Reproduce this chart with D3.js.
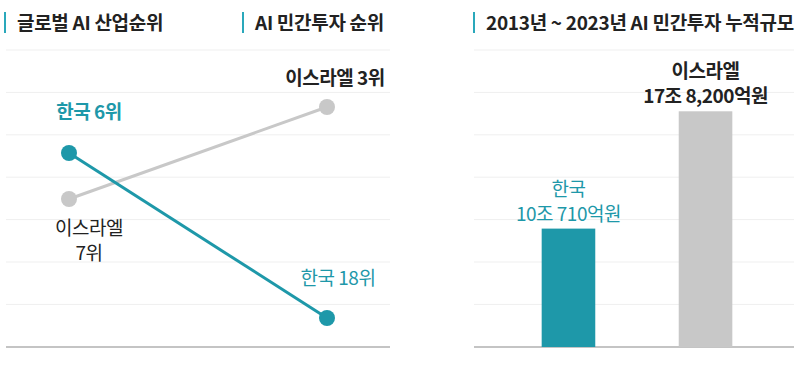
<!DOCTYPE html>
<html>
<head>
<meta charset="utf-8">
<script src="https://cdn.jsdelivr.net/npm/d3@7"></script>
<style>
  body { margin: 0; background: #fff; }
  svg text { font-family: "Noto Sans CJK KR", "Noto Sans", sans-serif; letter-spacing: -0.5px; }
</style>
</head>
<body>
<div id="chart"></div>
<script>
// slope chart data: rank in each column
var columns = ['글로벌 AI 산업순위', 'AI 민간투자 순위'];
var countries = ['한국', '이스라엘'];
var industryRank = [6, 7];
var investRank = [18, 3];
var colors = ['#1e98a9', '#c8c8c8'];

// bar chart data (조원)
var barTitle = '2013년 ~ 2023년 AI 민간투자 누적규모';
var barValues = [10.071, 17.82];
var barLabels = ['10조 710억원', '17조 8,200억원'];

var width = 800, height = 370;
var svg = d3.select('#chart').append('svg')
  .attr('width', width)
  .attr('height', height);

var gridY = d3.range(7).map(function(i) { return 50 + i * 42.4; });
var baseY = 347;

function drawFrame(x0, x1) {
  svg.selectAll(null).data(gridY).enter().append('line')
    .attr('x1', x0).attr('x2', x1)
    .attr('y1', function(d) { return d; }).attr('y2', function(d) { return d; })
    .attr('stroke', '#efefef').attr('stroke-width', 1);
  svg.append('line')
    .attr('x1', x0).attr('x2', x1).attr('y1', baseY).attr('y2', baseY)
    .attr('stroke', '#c4c4c4').attr('stroke-width', 2);
}

function drawTitle(x, txt) {
  svg.append('rect').attr('x', x).attr('y', 12).attr('width', 2).attr('height', 21).attr('fill', '#2aa8bb');
  svg.append('text').attr('x', x + 13).attr('y', 30)
    .attr('font-size', 19).attr('font-weight', 700).attr('fill', '#222')
    .style('letter-spacing', '-0.3px')
    .text(txt);
}

// ---- left: slope chart ----
drawFrame(6, 390);
drawTitle(4, columns[0]);
drawTitle(242, columns[1]);

var x = d3.scalePoint().domain([0, 1]).range([69, 327]);
var yLeft = d3.scaleLinear().domain([6, 7]).range([153, 199]);
var yRight = d3.scaleLinear().domain([3, 18]).range([107, 318]);

var series = countries.map(function(c, i) {
  return { name: c, color: colors[i], pts: [[0, yLeft(industryRank[i])], [1, yRight(investRank[i])]] };
});

// draw israel first, korea on top
series.slice().reverse().forEach(function(s) {
  svg.append('path')
    .attr('d', d3.line().x(function(d) { return x(d[0]); }).y(function(d) { return d[1]; })(s.pts))
    .attr('fill', 'none').attr('stroke', s.color).attr('stroke-width', 3);
  svg.selectAll(null).data(s.pts).enter().append('circle')
    .attr('cx', function(d) { return x(d[0]); })
    .attr('cy', function(d) { return d[1]; })
    .attr('r', 8).attr('fill', s.color);
});

var teal = colors[0], dark = '#222';
function label(tx, ty, lines, col, bold) {
  var t = svg.append('text').attr('text-anchor', 'middle').attr('font-size', 19)
    .attr('fill', col).attr('font-weight', bold ? 700 : 400);
  lines.forEach(function(l, i) {
    t.append('tspan').attr('x', tx).attr('y', ty + i * 25).text(l);
  });
}
label(89, yLeft(industryRank[0]) - 34, [countries[0] + ' ' + industryRank[0] + '위'], teal, true);
label(89, yLeft(industryRank[1]) + 36, [countries[1], industryRank[1] + '위'], dark, false);
label(335, yRight(investRank[1]) - 22, [countries[1] + ' ' + investRank[1] + '위'], dark, true);
label(338, yRight(investRank[0]) - 33, [countries[0] + ' ' + investRank[0] + '위'], teal, false);

// ---- right: bar chart ----
drawFrame(474, 794);
drawTitle(473, barTitle);

var xb = d3.scaleBand().domain(countries).range([480, 794]).paddingInner(0.609).paddingOuter(0.45);
var yb = d3.scaleLinear().domain([2.25, 18.5]).range([baseY, 101]);

svg.selectAll('rect.bar').data(barValues).enter().append('rect')
  .attr('class', 'bar')
  .attr('x', function(d, i) { return xb(countries[i]); })
  .attr('width', xb.bandwidth())
  .attr('y', function(d) { return yb(d); })
  .attr('height', function(d) { return baseY - yb(d); })
  .attr('fill', function(d, i) { return colors[i]; });

barValues.forEach(function(v, i) {
  label(xb(countries[i]) + xb.bandwidth() / 2, yb(v) - 33, [countries[i], barLabels[i]],
    i === 0 ? teal : dark, i === 1);
});
</script>
</body>
</html>
